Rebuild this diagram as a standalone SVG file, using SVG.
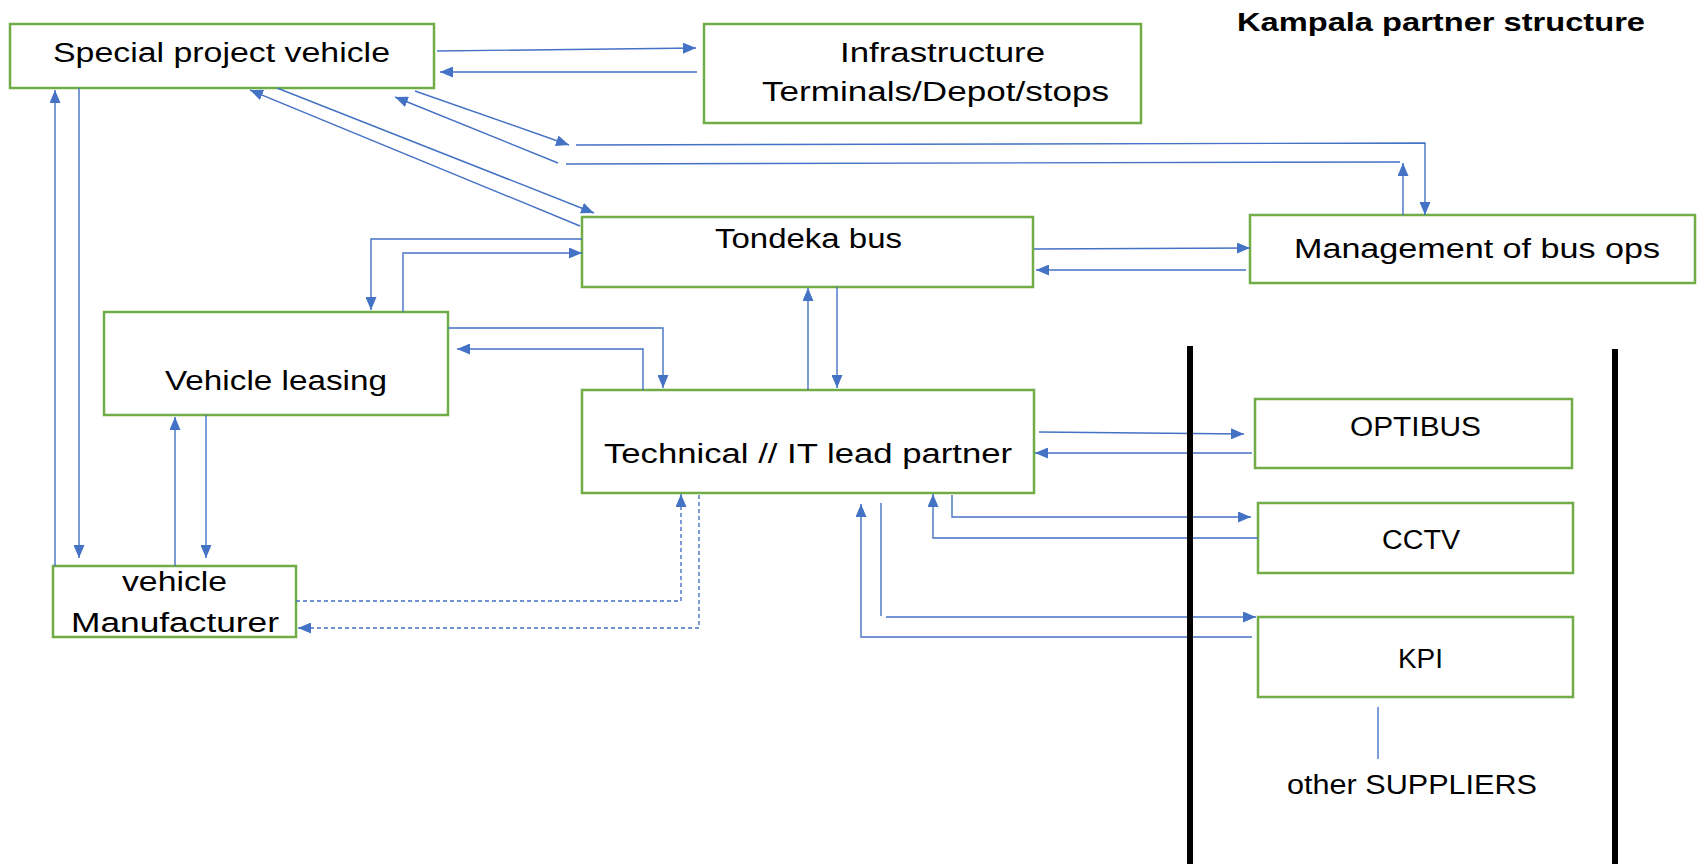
<svg xmlns="http://www.w3.org/2000/svg" width="1698" height="864" viewBox="0 0 1698 864">
<style>
.box{fill:#fff;stroke:#70AD47;stroke-width:2.5}
.t{font-family:"Liberation Sans",Arial,sans-serif;font-size:27px;fill:#000}
.title{font-family:"Liberation Sans",Arial,sans-serif;font-size:26px;font-weight:bold;fill:#000}
.c{fill:none;stroke:#4472C4;stroke-width:1.4}
.d{fill:none;stroke:#4472C4;stroke-width:1.4;stroke-dasharray:4 3}
.bar{stroke:#000;stroke-width:6}
</style>
<defs>
<marker id="ah" markerUnits="userSpaceOnUse" markerWidth="13" markerHeight="11" refX="13" refY="5.5" orient="auto">
<path d="M0,0 L13,5.5 L0,11 z" fill="#4472C4"/>
</marker>
</defs>
<rect width="1698" height="864" fill="#fff"/>
<text class="title" x="1237" y="31" textLength="408" lengthAdjust="spacingAndGlyphs">Kampala partner structure</text>
<g id="spv"><rect class="box" x="10" y="24" width="424" height="64"/><text class="t" x="53" y="62" textLength="337" lengthAdjust="spacingAndGlyphs">Special project vehicle</text></g>
<g id="infra"><rect class="box" x="704" y="24" width="437" height="99"/><text class="t" x="840" y="62" textLength="205" lengthAdjust="spacingAndGlyphs">Infrastructure</text><text class="t" x="762" y="101" textLength="347" lengthAdjust="spacingAndGlyphs">Terminals/Depot/stops</text></g>
<g id="tondeka"><rect class="box" x="582" y="217" width="451" height="70"/><text class="t" x="715" y="248" textLength="187" lengthAdjust="spacingAndGlyphs">Tondeka bus</text></g>
<g id="mgmt"><rect class="box" x="1250" y="215" width="445" height="68"/><text class="t" x="1294" y="258" textLength="366" lengthAdjust="spacingAndGlyphs">Management of bus ops</text></g>
<g id="leasing"><rect class="box" x="104" y="312" width="344" height="103"/><text class="t" x="165" y="390" textLength="222" lengthAdjust="spacingAndGlyphs">Vehicle leasing</text></g>
<g id="tech"><rect class="box" x="582" y="390" width="452" height="103"/><text class="t" x="604" y="463" textLength="408" lengthAdjust="spacingAndGlyphs">Technical // IT lead partner</text></g>
<g id="manuf"><rect class="box" x="53" y="566" width="243" height="71"/><text class="t" x="122" y="591" textLength="105" lengthAdjust="spacingAndGlyphs">vehicle</text><text class="t" x="71" y="632" textLength="208" lengthAdjust="spacingAndGlyphs">Manufacturer</text></g>
<g id="optibus"><rect class="box" x="1255" y="399" width="317" height="69"/><text class="t" x="1350" y="436" textLength="131" lengthAdjust="spacingAndGlyphs">OPTIBUS</text></g>
<g id="cctv"><rect class="box" x="1258" y="503" width="315" height="70"/><text class="t" x="1382" y="549" textLength="78" lengthAdjust="spacingAndGlyphs">CCTV</text></g>
<g id="kpi"><rect class="box" x="1258" y="617" width="315" height="80"/><text class="t" x="1398" y="668" textLength="45" lengthAdjust="spacingAndGlyphs">KPI</text></g>
<g id="others"><text class="t" x="1287" y="794" textLength="250" lengthAdjust="spacingAndGlyphs">other SUPPLIERS</text></g>
<g id="connectors">
<path class="c" d="M437,51 L696,48" marker-end="url(#ah)"/>
<path class="c" d="M697,72 L440,72" marker-end="url(#ah)"/>
<path class="c" d="M55,566 L55,90" marker-end="url(#ah)"/>
<path class="c" d="M79,88 L79,558" marker-end="url(#ah)"/>
<path class="c" d="M277,88 L594,213" marker-end="url(#ah)"/>
<path class="c" d="M580,226 L250,90" marker-end="url(#ah)"/>
<path class="c" d="M415,91 L569,145" marker-end="url(#ah)"/>
<path class="c" d="M576,145 L1425,143 L1425,215" marker-end="url(#ah)"/>
<path class="c" d="M1403,215 L1403,163" marker-end="url(#ah)"/>
<path class="c" d="M1400,162 L566,164"/>
<path class="c" d="M558,163 L395,97" marker-end="url(#ah)"/>
<path class="c" d="M582,239 L371,239 L371,310" marker-end="url(#ah)"/>
<path class="c" d="M403,312 L403,253 L582,253" marker-end="url(#ah)"/>
<path class="c" d="M448,328 L663,328 L663,388" marker-end="url(#ah)"/>
<path class="c" d="M643,390 L643,349 L457,349" marker-end="url(#ah)"/>
<path class="c" d="M808,390 L808,288" marker-end="url(#ah)"/>
<path class="c" d="M837,287 L837,388" marker-end="url(#ah)"/>
<path class="c" d="M1034,249 L1250,248" marker-end="url(#ah)"/>
<path class="c" d="M1246,270 L1036,270" marker-end="url(#ah)"/>
<path class="c" d="M1039,432 L1244,434" marker-end="url(#ah)"/>
<path class="c" d="M1252,453 L1035,453" marker-end="url(#ah)"/>
<path class="c" d="M952,495 L952,517 L1251,517" marker-end="url(#ah)"/>
<path class="c" d="M1258,538 L933,538 L933,494" marker-end="url(#ah)"/>
<path class="c" d="M881,503 L881,616"/>
<path class="c" d="M886,617 L1256,617" marker-end="url(#ah)"/>
<path class="c" d="M1252,637 L861,637 L861,504" marker-end="url(#ah)"/>
<path class="d" d="M296,601 L681,601 L681,494" marker-end="url(#ah)"/>
<path class="d" d="M699,495 L699,628 L298,628" marker-end="url(#ah)"/>
<path class="c" d="M175,566 L175,417" marker-end="url(#ah)"/>
<path class="c" d="M206,415 L206,558" marker-end="url(#ah)"/>
<path class="c" d="M1378,707 L1378,759"/>
</g>
<line class="bar" x1="1190" y1="346" x2="1190" y2="864"/>
<line class="bar" x1="1615" y1="349" x2="1615" y2="864"/>
</svg>
